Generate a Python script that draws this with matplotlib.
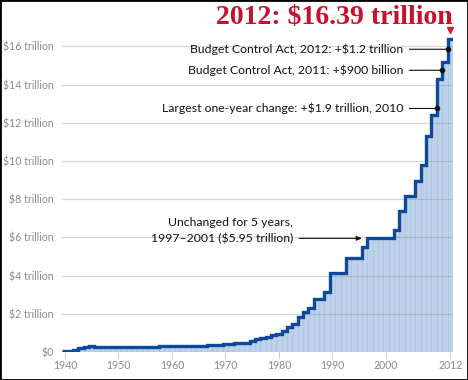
import numpy as np
import matplotlib
matplotlib.use("Agg")
import matplotlib.pyplot as plt
from matplotlib.patches import Rectangle

# Statutory debt limit at end of each year, trillions of dollars
years = list(range(1940, 2013))
limits = [
    0.049, 0.065, 0.125, 0.210, 0.260, 0.300, 0.275, 0.275, 0.275, 0.275,   # 1940-49
    0.275, 0.275, 0.275, 0.275, 0.281, 0.281, 0.278, 0.275, 0.288, 0.295,   # 1950-59
    0.293, 0.298, 0.308, 0.309, 0.324, 0.328, 0.330, 0.358, 0.358, 0.377,   # 1960-69
    0.395, 0.430, 0.465, 0.475, 0.495, 0.595, 0.682, 0.752, 0.798, 0.879,   # 1970-79
    0.935, 1.080, 1.290, 1.490, 1.824, 2.079, 2.300, 2.800, 2.800, 3.123,   # 1980-89
    4.145, 4.145, 4.145, 4.900, 4.900, 4.900, 5.500, 5.950, 5.950, 5.950,   # 1990-99
    5.950, 5.950, 6.400, 7.384, 8.184, 8.184, 8.965, 9.815, 11.315, 12.394, # 2000-09
    14.294, 15.194, 16.394,                                                 # 2010-12
]
xtick_years = [1940, 1950, 1960, 1970, 1980, 1990, 2000, 2012]
ytick_vals = [0, 2, 4, 6, 8, 10, 12, 14, 16]
ytick_labels = ["$0"] + [f"${v} trillion" for v in ytick_vals[1:]]
title = "2012: $16.39 trillion"
notes = [
    ("Budget Control Act, 2012: +$1.2 trillion", 2012, 15.85),
    ("Budget Control Act, 2011: +$900 billion", 2011, 14.75),
    ("Largest one-year change: +$1.9 trillion, 2010", 2010, 12.75),
]
flat_line1 = "Unchanged for 5 years,"
flat_line2 = "1997\u20132001 ($5.95 trillion)"
flat_year, flat_val = 1997, 5.95

W, H = 468, 380
fig = plt.figure(figsize=(W / 100, H / 100), dpi=100)
fig.patch.set_facecolor("white")

ax_l, ax_r, ax_b, ax_t = 62.3, 453.4, 352, 27.3
ax = fig.add_axes([ax_l / W, (H - ax_b) / H, (ax_r - ax_l) / W, (ax_b - ax_t) / H])
ax.set_xlim(1939.5, 2012.6)
ax.set_ylim(0, 17)
for s in ax.spines.values():
    s.set_visible(False)

yrs = np.array(years)
vals = np.array(limits)
edges = np.append(yrs - 0.5, yrs[-1] + 0.5)

ax.bar(yrs, vals, width=1.0, color="#bdd2ea", edgecolor="#abc2de", linewidth=0.5, zorder=1)
for v in ytick_vals:
    ax.axhline(v, color=(0.45, 0.5, 0.58), alpha=0.3, lw=0.9, zorder=2)
ax.stairs(vals, edges, baseline=None, color="#0d4a9a", lw=2.4, zorder=4)

tick_font = dict(family=["Lato", "DejaVu Sans"], size=7.6, color="#8a8a8a")
ax.set_yticks(ytick_vals)
ax.set_yticklabels(ytick_labels, **tick_font)
ax.tick_params(axis="y", length=0, pad=6)
ax.set_xticks(xtick_years)
ax.set_xticklabels([str(y) for y in xtick_years], **tick_font)
ax.tick_params(axis="x", length=4, width=0.6, color="#bbbbbb", pad=2)

note_font = dict(family=["Lato", "DejaVu Sans"], size=8.8, color="#111111")
text_x = 2003.2
for txt, yr, yv in notes:
    ax.annotate(txt, xy=(yr - 0.5, yv), xytext=(text_x, yv), ha="right", va="center",
                arrowprops=dict(arrowstyle="-", color="#111111", lw=0.8, shrinkA=2.5, shrinkB=0),
                zorder=6, **note_font)
    ax.plot([yr - 0.5], [yv], "o", ms=3, color="#111111", zorder=6)

flat_x = 1982.6
ax.text(flat_x, flat_val + 0.85, flat_line1, ha="right", va="center", zorder=6, **note_font)
ax.annotate(flat_line2, xy=(flat_year - 1.5, flat_val), xytext=(flat_x, flat_val),
            ha="right", va="center",
            arrowprops=dict(arrowstyle="-|>,head_length=0.35,head_width=0.15",
                            color="#111111", lw=0.8, shrinkA=2.5, shrinkB=0),
            zorder=6, **note_font)

ax.plot([2012], [16.85], marker="v", ms=5, color="#d0202e", zorder=6, clip_on=False)

fig.text(453 / W, 1 - 17 / H, title, ha="right", va="center", color="#c8102e",
         fontsize=20, fontweight="bold", family=["Liberation Serif", "DejaVu Serif"])

fig.patches.append(Rectangle((0, 0), 1, 1, transform=fig.transFigure, fill=False,
                             edgecolor="black", lw=2, zorder=10))

fig.savefig("out.png", dpi=100)
